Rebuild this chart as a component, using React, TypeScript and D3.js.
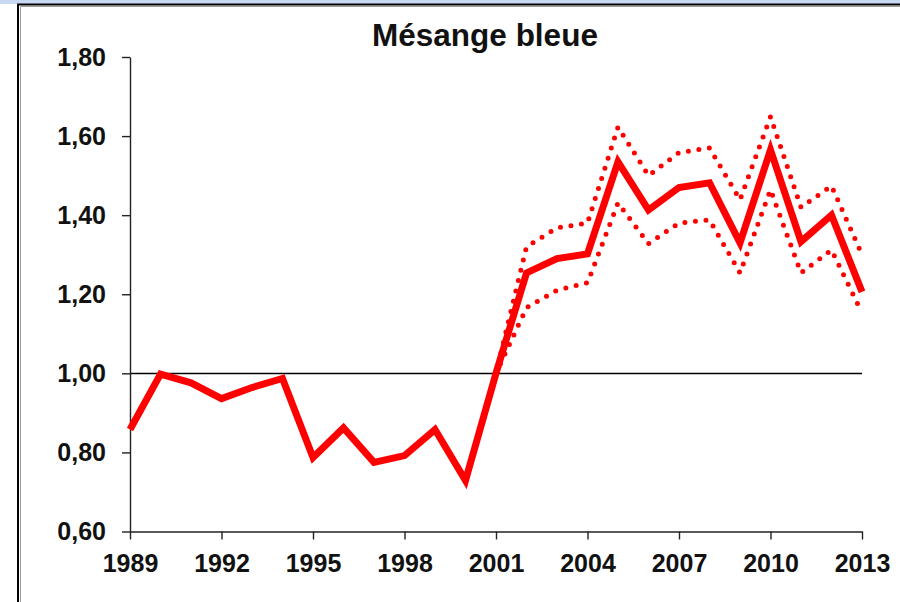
import React, { useEffect, useRef } from 'react';
import * as d3 from 'd3';

const years = d3.range(1989, 2014);
const index = [
  0.858, 0.998, 0.976, 0.936, 0.964, 0.987, 0.787, 0.862, 0.775, 0.792, 0.858, 0.729,
  1.0, 1.254, 1.29, 1.302, 1.535, 1.413, 1.47, 1.482, 1.33, 1.565, 1.333, 1.4, 1.206,
];
const ciYears = d3.range(2001, 2014);
const upper = [1.0, 1.32, 1.368, 1.38, 1.623, 1.5, 1.558, 1.57, 1.439, 1.649, 1.42, 1.474, 1.3];
const lower = [1.0, 1.166, 1.21, 1.229, 1.431, 1.328, 1.38, 1.388, 1.254, 1.464, 1.254, 1.312, 1.153];
const xTicks = [1989, 1992, 1995, 1998, 2001, 2004, 2007, 2010, 2013];
const yTicks = [0.6, 0.8, 1.0, 1.2, 1.4, 1.6, 1.8];

const frLocale = d3.formatLocale({ decimal: ',', thousands: ' ', grouping: [3], currency: ['', ' €'] });

function App() {
  const svgRef = useRef<SVGSVGElement>(null);
  const width = 900;
  const height = 602;

  useEffect(() => {
    if (!svgRef.current) return;
    const svg = d3.select(svgRef.current);
    svg.selectAll('*').remove();

    // page decoration: blue strip + framed chart area
    svg.append('rect').attr('x', 0).attr('y', 0).attr('width', width).attr('height', 4).attr('fill', '#c6d9f1');
    svg.append('rect')
      .attr('x', 18).attr('y', 4.5).attr('width', 900).attr('height', 700)
      .attr('fill', '#fff').attr('stroke', '#000').attr('stroke-width', 2);
    svg.append('path').attr('d', 'M20.5,700V6.5H900').attr('fill', 'none').attr('stroke', '#9a9a9a').attr('stroke-width', 1);

    const margin = { top: 57, right: 38, bottom: 70, left: 130 };
    const innerWidth = width - margin.left - margin.right;
    const innerHeight = height - margin.top - margin.bottom - 0.5;

    const x = d3.scaleLinear().domain([1989, 2013]).range([0, innerWidth]);
    const y = d3.scaleLinear().domain([0.6, 1.8]).range([innerHeight, 0]);

    const g = svg.append('g').attr('transform', `translate(${margin.left},${margin.top})`);

    // reference line at 1,00
    g.append('line')
      .attr('x1', 0).attr('x2', innerWidth)
      .attr('y1', Math.round(y(1)) + 0.5).attr('y2', Math.round(y(1)) + 0.5)
      .attr('stroke', '#000').attr('stroke-width', 1.3);

    const fontFamily = '"Liberation Sans", Arial, sans-serif';

    const xAxis = g.append('g')
      .attr('transform', `translate(0,${innerHeight})`)
      .call(d3.axisBottom(x).tickValues(xTicks).tickFormat(d3.format('d')).tickSizeInner(8).tickSizeOuter(0).tickPadding(15));
    const yAxis = g.append('g')
      .call(d3.axisLeft(y).tickValues(yTicks).tickFormat(frLocale.format('.2f')).tickSizeInner(8).tickSizeOuter(0).tickPadding(16));

    [xAxis, yAxis].forEach(ax => {
      ax.selectAll('path, line').attr('stroke', '#222').attr('stroke-width', 1.4);
      ax.selectAll('text')
        .attr('fill', '#111')
        .style('font-family', fontFamily)
        .style('font-size', '25px')
        .style('font-weight', 'bold');
    });

    const line = d3.line<[number, number]>()
      .x(d => x(d[0]))
      .y(d => y(d[1]));

    const ciStyle = (p: d3.Selection<SVGPathElement, unknown, null, undefined>) =>
      p.attr('fill', 'none')
        .attr('stroke', '#ff0000')
        .attr('stroke-width', 5)
        .attr('stroke-linecap', 'round')
        .attr('stroke-dasharray', '0 10.6');

    g.append('path')
      .attr('d', line(ciYears.map((yr, i) => [yr, upper[i]] as [number, number])))
      .call(ciStyle);
    g.append('path')
      .attr('d', line(ciYears.map((yr, i) => [yr, lower[i]] as [number, number])))
      .call(ciStyle);

    g.append('path')
      .attr('d', line(years.map((yr, i) => [yr, index[i]] as [number, number])))
      .attr('fill', 'none')
      .attr('stroke', '#ff0000')
      .attr('stroke-width', 7)
      .attr('stroke-linejoin', 'miter');

    svg.append('text')
      .attr('x', 485)
      .attr('y', 46)
      .attr('text-anchor', 'middle')
      .style('font-family', fontFamily)
      .style('font-size', '31.5px')
      .style('font-weight', 'bold')
      .attr('fill', '#111')
      .text('Mésange bleue');
  }, []);

  return (
    <svg
      ref={svgRef}
      width={width}
      height={height}
      style={{ position: 'absolute', left: 0, top: 0, display: 'block' }}
    ></svg>
  );
}

export default App;
